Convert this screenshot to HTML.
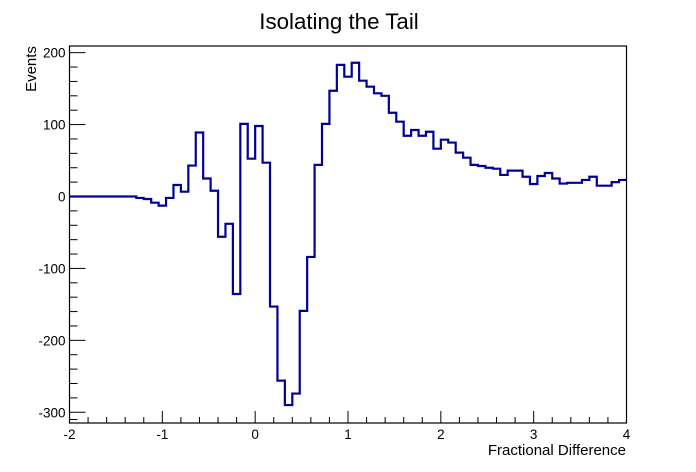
<!DOCTYPE html>
<html><head><meta charset="utf-8"><style>
html,body{margin:0;padding:0;background:#fff;}
svg{display:block;font-family:"Liberation Sans",sans-serif;}
</style></head><body>
<svg id="chart" width="696" height="472" viewBox="0 0 696 472">
<text x="339" y="29" font-size="22.3" text-anchor="middle">Isolating the Tail</text>
<text x="626" y="455" font-size="15" text-anchor="end">Fractional Difference</text>
<text transform="translate(36,69) rotate(-90)" font-size="15" text-anchor="middle">Events</text>
<g id="axes"></g>
<path id="hist" fill="none" stroke="#000099" stroke-width="2.2"></path>
<rect x="69.5" y="46" width="557" height="377" fill="none" stroke="#000" stroke-width="1.2"></rect>
</svg>
<script>
const binStart = -2;
const binWidth = 0.08;
const counts = [0,0,0,0,0,0,0,0,0,-2,-3.5,-8.6,-12.7,-2,16,6.7,43,89,25,8,-56,-38,-135.6,101,52.6,98,47,-153,-256,-290,-274,-159,-84,44,101,147,183,166.6,186,161,152.7,143.5,140,116.5,104,84.5,92.5,84.5,90,66.5,79,75,61,54,44,42.4,40,38.7,30,36,36,27.5,17.4,28.5,32.7,25,18,19,19,23,27.5,15,15,20,23];
const xTicks = [-2,-1,0,1,2,3,4];
const yTicks = [-300,-200,-100,0,100,200];
const X0=69.5,X1=626.5,Y0=423,Y1=46;
const xMin=-2,xMax=4;
function sx(v){return X0+(v-xMin)/(xMax-xMin)*(X1-X0);}
const yZero=196.5, yPer=0.7192;
function sy(v){return yZero-v*yPer;}
const ns="http://www.w3.org/2000/svg";
const axes=document.getElementById('axes');
function line(x1,y1,x2,y2,name){const l=document.createElementNS(ns,'line');l.setAttribute('x1',x1);l.setAttribute('y1',y1);l.setAttribute('x2',x2);l.setAttribute('y2',y2);l.setAttribute('stroke','#000');l.setAttribute('stroke-width','1');


axes.appendChild(l);}
function text(x,y,s,anchor,name){const t=document.createElementNS(ns,'text');t.setAttribute('x',x);t.setAttribute('y',y);t.setAttribute('font-size','13.5');t.setAttribute('text-anchor',anchor);t.textContent=s;


axes.appendChild(t);}
for(let i=0;i<xTicks.length;i++){const v=xTicks[i];const x=sx(v);
 line(x,Y0,x,Y0-12,'x-major-tick');
 text(x,Y0+16,String(v),'middle','x-tick-label');
 if(i<xTicks.length-1){for(let k=1;k<5;k++){const xm=sx(v+k*0.2);line(xm,Y0,xm,Y0-6,'x-minor-tick');}}}
for(let i=0;i<yTicks.length;i++){const v=yTicks[i];const y=sy(v);
 line(X0,y,X0+16,y,'y-major-tick');
 text(X0-4,y+5,String(v),'end','y-tick-label');}
for(let v=-300;v<=210;v+=20){if(v%100!==0){const y=sy(v);if(y>Y1&&y<Y0)line(X0,y,X0+8,y,'y-minor-tick');}}
{const y=sy(-310);line(X0,y,X0+8,y,'y-minor-tick');}
let d='M'+sx(binStart)+','+sy(counts[0]);
for(let i=0;i<counts.length;i++){const a=binStart+i*binWidth,b=a+binWidth;
 d+=' L'+sx(a)+','+sy(counts[i])+' L'+sx(b)+','+sy(counts[i]);}
document.getElementById('hist').setAttribute('d',d);
</script>
</body></html>
